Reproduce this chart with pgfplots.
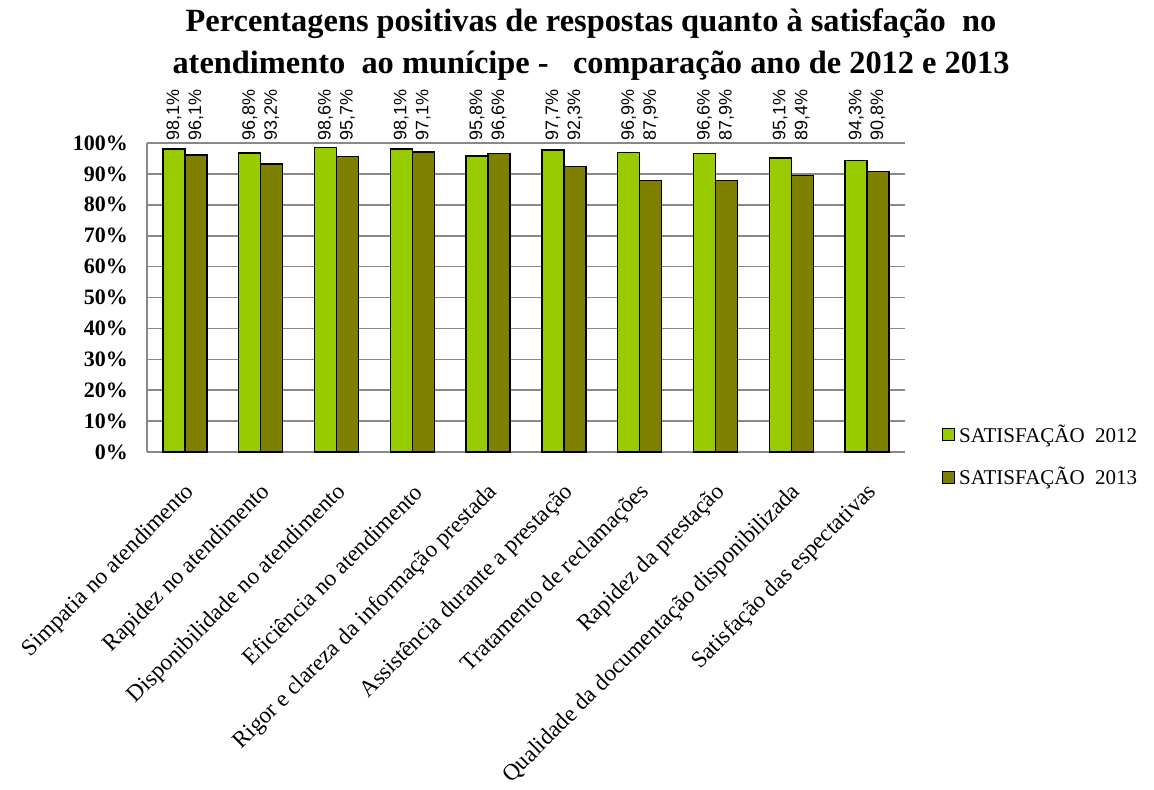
\documentclass[border=0pt]{standalone}
\usepackage{pgfplots}
\pgfplotsset{compat=1.18}
\usepackage{fontspec}
\setmainfont{Liberation Serif}
\newfontfamily\lsans{Liberation Sans}
\definecolor{g12}{HTML}{99CC00}
\definecolor{g13}{HTML}{808000}
\definecolor{gridc}{HTML}{888888}
\begin{document}
\begin{tikzpicture}
\useasboundingbox (0,0) rectangle (577pt,394.5pt);
\node[font=\bfseries\fontsize{16.2}{21}\selectfont, align=center, anchor=center] at (295.5pt,372pt)
 {Percentagens positivas de respostas quanto à satisfação\ \ no\\atendimento\ \ ao munícipe -\ \ \ comparação ano de 2012 e 2013};
\begin{axis}[
  at={(73.5pt,168.5pt)}, anchor=south west,
  width=379pt, height=154.5pt, scale only axis,
  xmin=-0.5, xmax=9.5, ymin=0, ymax=100,
  axis x line=bottom, axis y line=left,
  axis line style={gridc, line width=0.8pt, -},
  ytick={0,10,...,100},
  ymajorgrids, grid style={gridc, line width=0.8pt},
  major tick length=0pt,
  /pgf/number format/assume math mode=true,
  yticklabel={\pgfmathprintnumber{\tick}\%},
  yticklabel style={font=\bfseries\fontsize{11}{13}\selectfont, xshift=-6pt},
  xtick={0,...,9},
  xticklabels={Simpatia no atendimento,Rapidez no atendimento,Disponibilidade no atendimento,Eficiência no atendimento,Rigor e clareza da informação prestada,Assistência durante a prestação,Tratamento de reclamações,Rapidez da prestação,Qualidade da documentação disponibilizada,Satisfação das espectativas},
  xticklabel style={font=\fontsize{11.6}{14}\selectfont, rotate=45, anchor=east, xshift=-9.8pt, yshift=-15.2pt, inner sep=1pt},
  bar width=11pt,
  legend style={draw=none, at={(1.04,0.0)}, anchor=west, yshift=-2pt, font=\fontsize{10.5}{12}\selectfont, row sep=7pt, legend cell align=left},
  legend image code/.code={\draw[#1, draw=black] (0pt,-3pt) rectangle (6pt,3pt);},
]
\addplot[ybar, bar shift=-5.5pt, fill=g12, draw=black, line width=0.7pt] coordinates {
(0,98.1) (1,96.8) (2,98.6) (3,98.1) (4,95.8) (5,97.7) (6,96.9) (7,96.6) (8,95.1) (9,94.3)};
\addlegendentry{SATISFAÇÃO\ \ 2012}
\addplot[ybar, bar shift=5.5pt, fill=g13, draw=black, line width=0.7pt] coordinates {
(0,96.1) (1,93.2) (2,95.7) (3,97.1) (4,96.6) (5,92.3) (6,87.9) (7,87.9) (8,89.4) (9,90.8)};
\addlegendentry{SATISFAÇÃO\ \ 2013}
\addplot[draw=none, mark=none, forget plot, point meta=explicit symbolic,
  nodes near coords, every node near coord/.style={rotate=90, anchor=west, inner sep=1pt, font=\lsans\fontsize{9}{10}\selectfont}]
 coordinates {(-0.145,100)[98,1\%] (0.855,100)[96,8\%] (1.855,100)[98,6\%] (2.855,100)[98,1\%] (3.855,100)[95,8\%] (4.855,100)[97,7\%] (5.855,100)[96,9\%] (6.855,100)[96,6\%] (7.855,100)[95,1\%] (8.855,100)[94,3\%]};
\addplot[draw=none, mark=none, forget plot, point meta=explicit symbolic,
  nodes near coords, every node near coord/.style={rotate=90, anchor=west, inner sep=1pt, font=\lsans\fontsize{9}{10}\selectfont}]
 coordinates {(0.145,100)[96,1\%] (1.145,100)[93,2\%] (2.145,100)[95,7\%] (3.145,100)[97,1\%] (4.145,100)[96,6\%] (5.145,100)[92,3\%] (6.145,100)[87,9\%] (7.145,100)[87,9\%] (8.145,100)[89,4\%] (9.145,100)[90,8\%]};
\end{axis}
\end{tikzpicture}
\end{document}
